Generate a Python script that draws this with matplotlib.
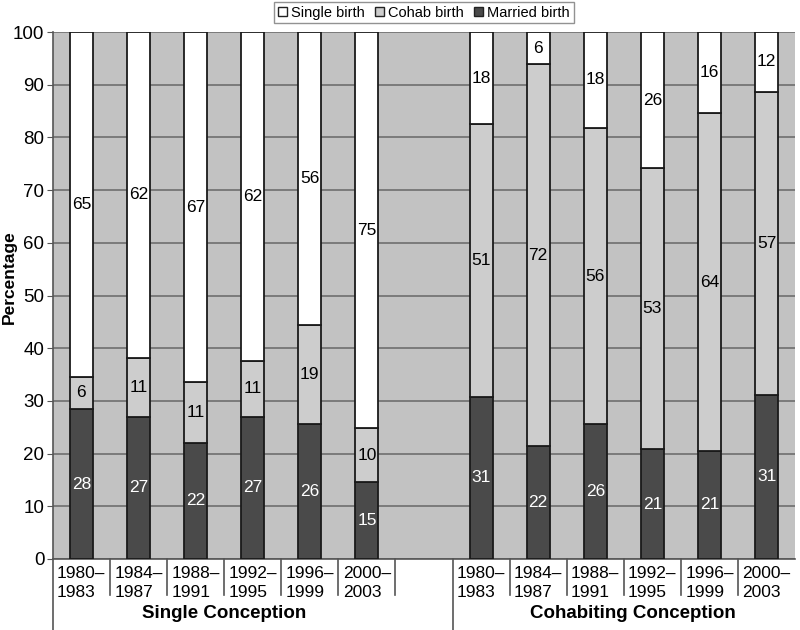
import numpy as np
import matplotlib
matplotlib.use("Agg")
import matplotlib.pyplot as plt
from matplotlib.patches import Patch
import matplotlib.transforms as mtransforms

plt.rcParams['font.family'] = ['Liberation Sans', 'DejaVu Sans']

# =============================================================================
# data (bar heights, labels as printed)
# =============================================================================
groups = ['Single Conception', 'Cohabiting Conception']
periods = ['1980–\n1983', '1984–\n1987', '1988–\n1991',
           '1992–\n1995', '1996–\n1999', '2000–\n2003']

married = [28.4, 27.0, 22.1, 27.0, 25.7, 14.6, 30.8, 21.4, 25.6, 20.8, 20.5, 31.2]
cohab = [6.2, 11.2, 11.4, 10.6, 18.7, 10.2, 51.7, 72.5, 56.2, 53.3, 64.1, 57.5]
single = [65.4, 61.8, 66.5, 62.4, 55.6, 75.2, 17.5, 6.1, 18.2, 25.9, 15.4, 11.3]

married_lbl = [28, 27, 22, 27, 26, 15, 31, 22, 26, 21, 21, 31]
cohab_lbl = [6, 11, 11, 11, 19, 10, 51, 72, 56, 53, 64, 57]
single_lbl = [65, 62, 67, 62, 56, 75, 18, 6, 18, 26, 16, 12]

# colours
c_married = '#4a4a4a'
c_cohab = '#cdcdcd'
c_single = '#ffffff'
c_bg = '#c2c2c2'
c_grid = '#6e6e6e'

############################## Construct Figure ##############################
fig = plt.figure(figsize=(8, 6.3), dpi=100)
ax = fig.add_axes([0.066, 0.1127, 0.928, 0.8365])
ax.set_facecolor(c_bg)

# positions: 6 bars, one empty slot, 6 bars
x = np.array(list(range(6)) + list(range(7, 13)))
married = np.array(married)
cohab = np.array(cohab)
single = np.array(single)

w = 0.4
kw = dict(width=w, edgecolor='#1a1a1a', linewidth=1.3, zorder=3)
ax.bar(x, married, color=c_married, **kw)
ax.bar(x, cohab, bottom=married, color=c_cohab, **kw)
ax.bar(x, single, bottom=married + cohab, color=c_single, **kw)

# value labels in the middle of each segment
fs = 12.5
for i in range(len(x)):
    ax.text(x[i], married[i] / 2, str(married_lbl[i]), ha='center', va='center',
            color='white', fontsize=fs, zorder=4)
    ax.text(x[i], married[i] + cohab[i] / 2, str(cohab_lbl[i]), ha='center',
            va='center', color='black', fontsize=fs, zorder=4)
    ax.text(x[i], married[i] + cohab[i] + single[i] / 2, str(single_lbl[i]),
            ha='center', va='center', color='black', fontsize=fs, zorder=4)

# axes
ax.set_xlim(-0.5, 12.5)
ax.set_ylim(0, 100)
ax.set_yticks(np.arange(0, 101, 10))
ax.tick_params(axis='y', labelsize=13.5, length=4, color='#555555', pad=2)
ax.yaxis.grid(True, color=c_grid, linewidth=1.2, zorder=0)
ax.set_axisbelow(True)
for s in ['top', 'right']:
    ax.spines[s].set_visible(False)
ax.spines['left'].set_color('#555555')
ax.spines['bottom'].set_color('#555555')
ax.spines['left'].set_linewidth(1.2)
ax.spines['bottom'].set_linewidth(1.2)
ax.set_ylabel('Percentage', fontsize=12.5, fontweight='bold')
ax.yaxis.set_label_coords(-0.048, 0.534)

# x tick labels: year ranges
ax.set_xticks(x)
ax.set_xticklabels(periods * 2, fontsize=12.5, multialignment='left',
                   linespacing=1.3)
ax.tick_params(axis='x', length=0, pad=5)

# separators below the axis
trans = mtransforms.blended_transform_factory(ax.transData, ax.transAxes)
short_sep = [0.5, 1.5, 2.5, 3.5, 4.5, 5.5, 7.5, 8.5, 9.5, 10.5, 11.5]
long_sep = [-0.5, 6.5]
for s in short_sep:
    ax.plot([s, s], [0, -0.068], transform=trans, color='#555555',
            linewidth=1.2, clip_on=False)
for s in long_sep:
    ax.plot([s, s], [0, -0.135], transform=trans, color='#555555',
            linewidth=1.2, clip_on=False)

# group labels
ax.text(2.5, -0.104, groups[0], transform=trans, ha='center', va='center',
        fontsize=13.5, fontweight='bold')
ax.text(9.65, -0.104, groups[1], transform=trans, ha='center', va='center',
        fontsize=13.5, fontweight='bold')

# legend at the top
legend_elements = [Patch(facecolor=c_single, edgecolor='#222222', label='Single birth'),
                   Patch(facecolor=c_cohab, edgecolor='#222222', label='Cohab birth'),
                   Patch(facecolor=c_married, edgecolor='#222222', label='Married birth')]
leg = fig.legend(handles=legend_elements, loc='center', ncol=3,
                 bbox_to_anchor=(0.53, 0.98), fontsize=10.5, frameon=True,
                 fancybox=False, handlelength=0.6, handleheight=0.6,
                 handletextpad=0.3, columnspacing=0.7, borderpad=0.25,
                 borderaxespad=0)
leg.get_frame().set_edgecolor('#777777')
leg.get_frame().set_linewidth(1.0)

fig.savefig('out.png', dpi=100)
